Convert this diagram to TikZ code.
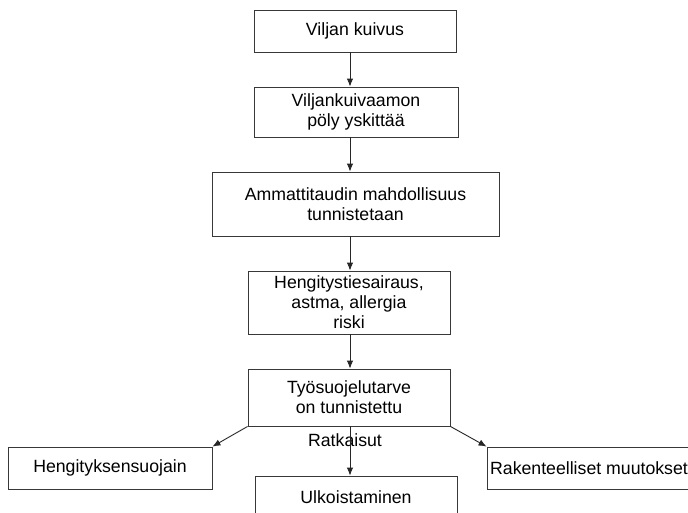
\documentclass[tikz,border=0pt]{standalone}
\usepackage{fontspec}
\setmainfont{Liberation Sans}
\usetikzlibrary{arrows.meta}
\begin{document}
\begin{tikzpicture}[x=1pt,y=-1pt,
  box/.style={draw=black!78,line width=0.9pt,fill=white,inner sep=0pt,align=center,
    font=\fontsize{17.7}{20}\selectfont},
  lbl/.style={inner sep=0pt,font=\fontsize{17.7}{20}\selectfont},
  arr/.style={draw=black!85,line width=0.9pt,-{Latex[length=8pt,width=6.5pt]}}]
\useasboundingbox[fill=white] (0,0) rectangle (688,512);
\begin{scope}
\clip (0,0) rectangle (688,512);
% process boxes
\node[box,minimum width=202,minimum height=42] (b1) at (355,31) {Viljan kuivus};
\node[box,minimum width=204,minimum height=50] (b2) at (356,112) {Viljankuivaamon\\pöly yskittää};
\node[box,minimum width=287,minimum height=64] (b3) at (355.5,204) {Ammattitaudin mahdollisuus\\tunnistetaan};
\node[box,minimum width=202,minimum height=63] (b4) at (349,302.5) {Hengitystiesairaus,\\astma, allergia\\riski};
\node[box,minimum width=202,minimum height=57] (b5) at (349,397.5) {Työsuojelutarve\\on tunnistettu};
% solutions
\node[box,minimum width=204,minimum height=42] (b6) at (110,468) {Hengityksensuojain};
\node[box,minimum width=202,minimum height=42] (b7) at (356,497) {Ulkoistaminen};
\node[box,minimum width=204,minimum height=42] (b8) at (589,468) {Rakenteelliset muutokset};
\node[lbl] (rt) at (345,440) {Ratkaisut};
% main spine
\coordinate (sp) at (350,0);
\draw[arr] (b1.south -| sp) -- (b2.north -| sp);
\draw[arr] (b2.south -| sp) -- (b3.north -| sp);
\draw[arr] (b3.south -| sp) -- (b4.north -| sp);
\draw[arr] (b4.south -| sp) -- (b5.north -| sp);
\draw[arr] (b5.south -| sp) -- (b7.north -| sp);
\draw[arr] (b5.south west) -- (b6.north east);
\draw[arr] (b5.south east) -- (b8.north west);
\end{scope}
\end{tikzpicture}
\end{document}
